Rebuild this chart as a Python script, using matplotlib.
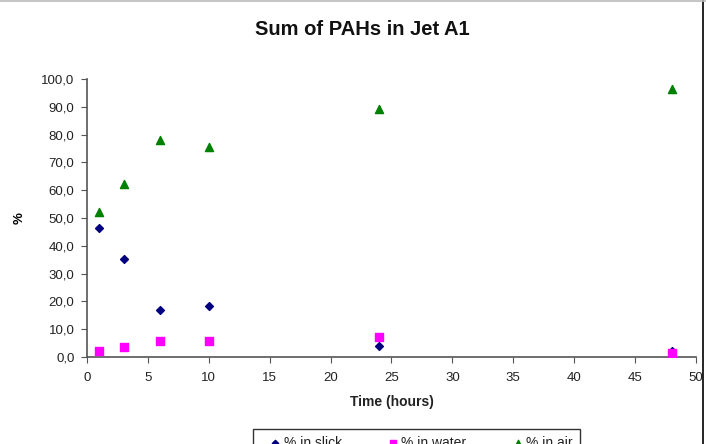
import numpy as np
import matplotlib
matplotlib.use('Agg')
import matplotlib.pyplot as plt
from matplotlib.ticker import FuncFormatter
from matplotlib.lines import Line2D

plt.rcParams['font.family'] = ['Liberation Sans', 'DejaVu Sans']

# data
time_h = [1, 3, 6, 10, 24, 48]
pct_slick = [46.3, 35.1, 17.0, 18.5, 4.0, 2.0]
pct_water = [2.0, 3.6, 5.9, 5.9, 7.2, 1.5]
pct_air = [52.2, 62.1, 77.9, 75.5, 89.3, 96.3]
labels = ['% in slick', '% in water', '% in air']

fig = plt.figure(figsize=(7.06, 4.44), dpi=100)
ax = fig.add_axes([0.1232, 0.1959, 0.8626, 0.6261])

ax.scatter(time_h, pct_slick, marker='D', s=16, color='#000080', label=labels[0], zorder=3)
ax.scatter(time_h, pct_water, marker='s', s=28, color='#FF00FF', label=labels[1], zorder=3)
ax.scatter(time_h, pct_air, marker='^', s=34, color='#008000', label=labels[2], zorder=3)

ax.set_xlim(0, 50)
ax.set_ylim(0, 100)
ax.set_xticks(np.arange(0, 51, 5))
ax.set_yticks(np.arange(0, 101, 10))
ax.yaxis.set_major_formatter(FuncFormatter(lambda v, p: f'{v:.1f}'.replace('.', ',')))

for s in ['top', 'right']:
    ax.spines[s].set_visible(False)
for s in ['left', 'bottom']:
    ax.spines[s].set_color('#555555')
    ax.spines[s].set_linewidth(1.2)
ax.tick_params(axis='both', direction='out', length=4, color='#555555', labelsize=9.5,
               labelcolor='#222222', pad=5)
ax.tick_params(axis='x', pad=7)

fig.text(0.513, 0.934, 'Sum of PAHs in Jet A1', ha='center', va='center',
         fontsize=14.5, fontweight='bold', color='#111111')
ax.set_xlabel('Time (hours)', fontsize=10, fontweight='bold', labelpad=8, color='#222222')
fig.text(0.028, 0.509, '%', rotation=90, ha='center', va='center', fontsize=9.5, fontweight='bold')

leg = fig.legend(loc='upper left', bbox_to_anchor=(253 / 706, 1 - 429 / 444), ncol=3,
                 frameon=True, fancybox=False, edgecolor='black', fontsize=10,
                 handletextpad=-0.5, handlelength=2.2, columnspacing=2.6, markerscale=0.8,
                 borderpad=0.5, borderaxespad=0)
leg.get_frame().set_linewidth(1.0)
for t in leg.get_texts():
    t.set_color('#222222')

# chart border remnants (screenshot is cropped)
fig.add_artist(Line2D([703 / 706, 703 / 706], [0, 1], color='black', lw=1.2, transform=fig.transFigure))
fig.add_artist(Line2D([0, 1], [0.998, 0.998], color='#bbbbbb', lw=1.2, transform=fig.transFigure))

fig.savefig('out.png', dpi=100)
